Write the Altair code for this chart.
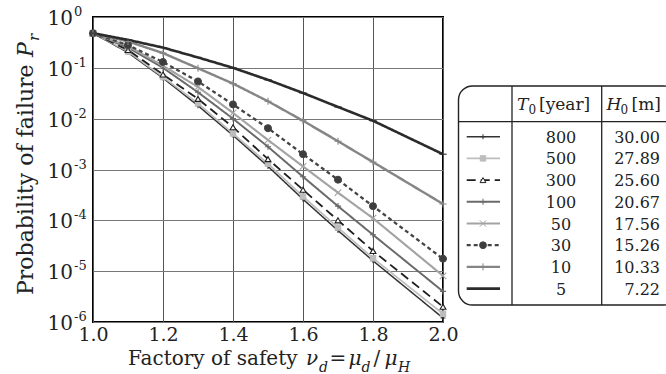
import altair as alt
import pandas as pd

FONT = "DejaVu Serif"
TXT = "#222222"

# ---------------- data ----------------
nu = [1.0, 1.1, 1.2, 1.3, 1.4, 1.5, 1.6, 1.7, 1.8, 2.0]
T0 = ["800", "500", "300", "100", "50", "30", "10", "5"]
H0 = ["30.00", "27.89", "25.60", "20.67", "17.56", "15.26", "10.33", "7.22"]

pf_800 = [0.48, 0.20, 0.063, 0.018, 4.7e-3, 1.15e-3, 2.6e-4, 6.3e-5, 1.6e-5, 1.2e-6]
pf_500 = [0.48, 0.21, 0.066, 0.020, 5.1e-3, 1.3e-3, 2.95e-4, 7.2e-5, 1.8e-5, 1.45e-6]
pf_300 = [0.48, 0.224, 0.074, 0.0245, 6.8e-3, 1.6e-3, 4.0e-4, 1.0e-4, 2.5e-5, 2.0e-6]
pf_100 = [0.48, 0.25, 0.10, 0.033, 0.010, 2.8e-3, 7.2e-4, 1.9e-4, 5.2e-5, 4.0e-6]
pf_50 = [0.48, 0.27, 0.11, 0.042, 0.013, 3.8e-3, 1.15e-3, 3.5e-4, 1.1e-4, 8.1e-6]
pf_30 = [0.48, 0.28, 0.13, 0.054, 0.019, 6.5e-3, 2.0e-3, 6.3e-4, 1.9e-4, 1.75e-5]
pf_10 = [0.48, 0.33, 0.195, 0.098, 0.049, 0.022, 9.1e-3, 3.6e-3, 1.4e-3, 2.1e-4]
pf_5 = [0.48, 0.355, 0.25, 0.16, 0.10, 0.058, 0.032, 0.017, 9.1e-3, 2.0e-3]

x_ticks = [1.0, 1.2, 1.4, 1.6, 1.8, 2.0]
y_exp = [0, -1, -2, -3, -4, -5, -6]

pf = {"800": pf_800, "500": pf_500, "300": pf_300, "100": pf_100,
      "50": pf_50, "30": pf_30, "10": pf_10, "5": pf_5}

rows = []
for s in T0:
    for x, p in zip(nu, pf[s]):
        rows.append({"series": s, "nu": x, "p": p})
df = pd.DataFrame(rows)

# ---------------- styles ----------------
PLUS = "M-1,0L1,0M0,-1L0,1"
XMARK = "M-1,-1L1,1M1,-1L-1,1"
DASH = "M-1,0L1,0"

stroke_s = alt.Scale(domain=T0, range=["#333333", "#bdbdbd", "#1e1e1e", "#6a6a6a",
                                       "#a3a3a3", "#444444", "#858585", "#2b2b2b"])
dash_s = alt.Scale(domain=T0, range=[[1, 0], [1, 0], [9, 5], [1, 0],
                                     [1, 0], [4, 3], [1, 0], [1, 0]])
sw_s = alt.Scale(domain=T0, range=[1.5, 2.6, 1.6, 1.5, 1.5, 1.5, 1.5, 1.7])
shape_s = alt.Scale(domain=T0, range=[PLUS, "square", "triangle-up", PLUS,
                                      XMARK, "circle", PLUS, DASH])
fill_s = alt.Scale(domain=T0, range=["transparent", "#bdbdbd", "white", "transparent",
                                     "transparent", "#3d3d3d", "transparent", "transparent"])
size_s = alt.Scale(domain=T0, range=[25, 55, 40, 20, 35, 75, 45, 18])

xs = alt.Scale(domain=[1.0, 2.0], nice=False, zero=False)
ys = alt.Scale(type="log", domain=[1e-6, 1], nice=False)

x_axis = alt.Axis(values=x_ticks, format=".1f", grid=True, gridColor="#555555", gridWidth=1,
                  ticks=False, domain=False, labelFont=FONT, labelFontSize=19, labelColor=TXT,
                  labelPadding=3, labelFlush=False, title=None)
y_axis = alt.Axis(values=[10.0 ** e for e in y_exp], grid=True, gridColor="#777777", gridWidth=1,
                  labels=False, ticks=False, domain=False, title=None)

X = alt.X("nu:Q", scale=xs, axis=x_axis)
Y = alt.Y("p:Q", scale=ys, axis=y_axis)

# ---------------- main plot ----------------
lines = alt.Chart(df).mark_line().encode(
    x=X, y=Y,
    stroke=alt.Stroke("series:N", scale=stroke_s, legend=None),
    strokeDash=alt.StrokeDash("series:N", scale=dash_s, legend=None),
    strokeWidth=alt.StrokeWidth("series:N", scale=sw_s, legend=None),
)

points = alt.Chart(df).mark_point(filled=False, opacity=1, strokeWidth=1.1).encode(
    x=X, y=Y,
    stroke=alt.Stroke("series:N", scale=stroke_s, legend=None),
    fill=alt.Fill("series:N", scale=fill_s, legend=None),
    shape=alt.Shape("series:N", scale=shape_s, legend=None),
    size=alt.Size("series:N", scale=size_s, legend=None),
)

# y tick labels 10^e
yt = pd.DataFrame({"e": y_exp})
yt["p"] = 10.0 ** yt["e"]
yt["lab"] = yt["e"].astype(str)

ten = alt.Chart(yt).mark_text(text="10", align="right", baseline="alphabetic", font=FONT,
                              fontSize=20, color=TXT, dy=8).encode(
    x=alt.value(-20), y=Y)
expo = alt.Chart(yt).mark_text(align="left", baseline="alphabetic", font=FONT,
                               fontSize=13, color=TXT, dy=-1).encode(
    x=alt.value(-19), y=Y, text="lab:N")

# ---------------- helpers for free text ----------------
one = pd.DataFrame({"k": [0]})


def txt(s, x, y, size, italic=False, angle=0, align="left"):
    return alt.Chart(one).mark_text(
        text=s, align=align, baseline="alphabetic", font=FONT, fontSize=size,
        fontStyle="italic" if italic else "normal", angle=angle, color=TXT,
    ).encode(x=alt.value(x), y=alt.value(y))


# x title: Factory of safety  nu_d = mu_d / mu_H
XB, XS = 348, 355
xtitle = [
    txt("Factory of safety", 35, XB, 20),
    txt("ν", 213, XB, 20, italic=True),
    txt("d", 226, XS, 14, italic=True),
    txt("=", 236.5, XB, 20),
    txt("μ", 255.5, XB, 20, italic=True),
    txt("d", 268.5, XS, 14, italic=True),
    txt("/", 280.5, XB, 20),
    txt("μ", 291.5, XB, 20, italic=True),
    txt("H", 305, XS, 14, italic=True),
]

# y title: Probability of failure P_r
ytitle = [
    txt("Probability of failure", -60, 278, 22, angle=270),
    txt("P", -60, 40, 22, italic=True, angle=270),
    txt("r", -54, 24, 15, italic=True, angle=270),
]

# ---------------- legend table ----------------
leg = pd.DataFrame({"series": T0, "T0": T0, "H0": H0, "i": list(range(len(T0)))})
leg["ly"] = 119.7 + 21.7 * leg["i"]
leg["lb"] = leg["ly"] + 6

box = alt.Chart(one).mark_rect(cornerRadius=14, fillOpacity=0, stroke=TXT, strokeWidth=1.4).encode(
    x=alt.value(365.5), x2=alt.value(585), y=alt.value(69), y2=alt.value(288))
col1 = alt.Chart(one).mark_rule(color=TXT, strokeWidth=1.3).encode(
    x=alt.value(419), y=alt.value(69), y2=alt.value(288))
col2 = alt.Chart(one).mark_rule(color=TXT, strokeWidth=1.3).encode(
    x=alt.value(508.7), y=alt.value(69), y2=alt.value(288))
hline = alt.Chart(one).mark_rule(color=TXT, strokeWidth=1.3).encode(
    x=alt.value(365.5), x2=alt.value(585), y=alt.value(104.7))

header = [
    txt("T", 424, 93, 17, italic=True),
    txt("0", 435.5, 97, 12),
    txt("[year]", 446, 93, 17),
    txt("H", 513.5, 93, 17, italic=True),
    txt("0", 527.5, 97, 12),
    txt("[m]", 538.5, 93, 17),
]

sw_lines = alt.Chart(leg).mark_rule().encode(
    x=alt.value(373.7), x2=alt.value(407),
    y=alt.Y("ly:Q", scale=None, axis=None),
    stroke=alt.Stroke("series:N", scale=stroke_s, legend=None),
    strokeDash=alt.StrokeDash("series:N", scale=dash_s, legend=None),
    strokeWidth=alt.StrokeWidth("series:N", scale=sw_s, legend=None),
)
sw_pts = alt.Chart(leg).mark_point(filled=False, opacity=1, strokeWidth=1.0).encode(
    x=alt.value(390),
    y=alt.Y("ly:Q", scale=None, axis=None),
    stroke=alt.Stroke("series:N", scale=stroke_s, legend=None),
    fill=alt.Fill("series:N", scale=fill_s, legend=None),
    shape=alt.Shape("series:N", scale=shape_s, legend=None),
    size=alt.Size("series:N", scale=size_s, legend=None),
)
t0_txt = alt.Chart(leg).mark_text(align="center", baseline="alphabetic", font=FONT,
                                  fontSize=16, color=TXT).encode(
    x=alt.value(468), y=alt.Y("lb:Q", scale=None, axis=None), text="T0:N")
h0_txt = alt.Chart(leg).mark_text(align="right", baseline="alphabetic", font=FONT,
                                  fontSize=16, color=TXT).encode(
    x=alt.value(567), y=alt.Y("lb:Q", scale=None, axis=None), text="H0:N")

chart = alt.layer(
    lines, points, ten, expo, *xtitle, *ytitle,
    box, col1, col2, hline, *header, sw_lines, sw_pts, t0_txt, h0_txt,
).properties(
    width=350, height=305,
    autosize=alt.AutoSizeParams(type="none"),
    padding={"left": 93, "top": 17, "right": 223, "bottom": 52},
    background="white",
).configure_view(stroke="black", strokeWidth=2)

chart.save("out.html", embed_options={"renderer": "svg", "actions": False})
